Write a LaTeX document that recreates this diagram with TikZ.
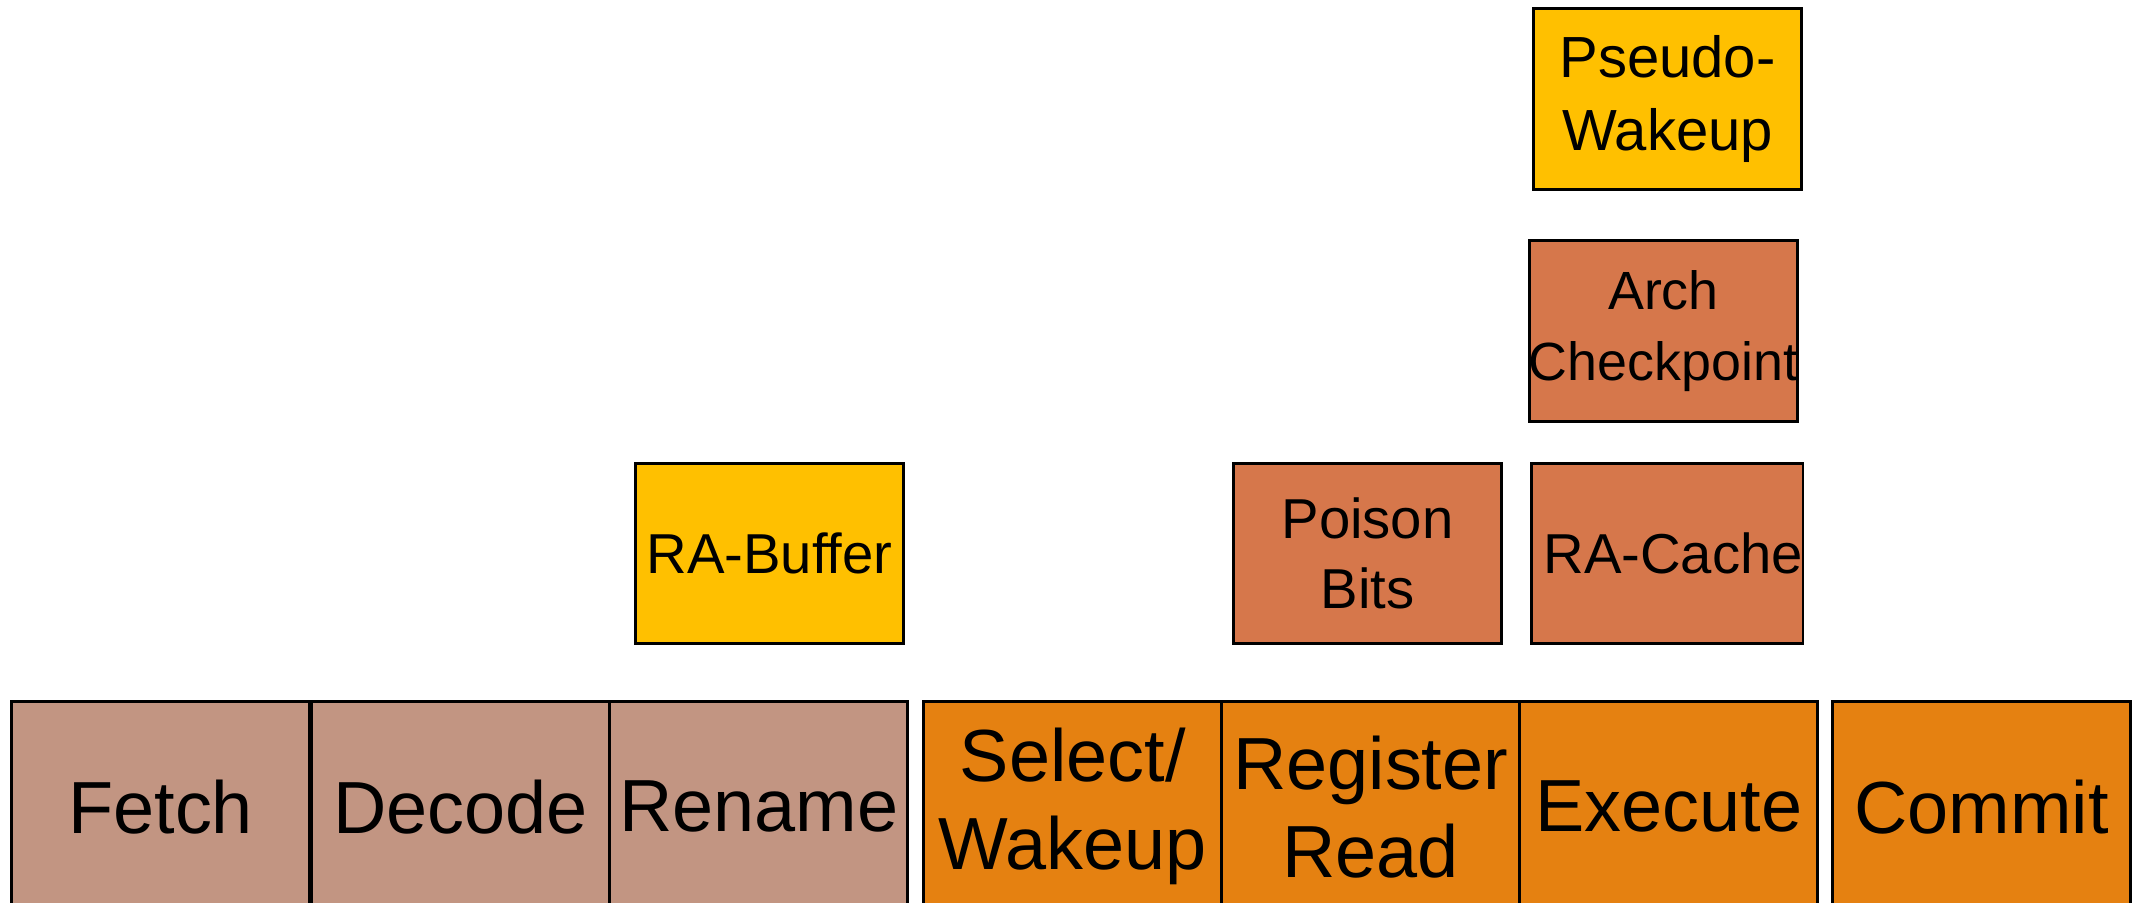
\documentclass[tikz,border=0pt]{standalone}
\usepackage{fontspec}
\setmainfont{Liberation Sans}
\definecolor{stagebrown}{RGB}{194,149,130}
\definecolor{stageorange}{RGB}{229,129,17}
\definecolor{burnt}{RGB}{214,119,75}
\definecolor{gold}{RGB}{255,192,0}
\tikzset{
  bigbox/.style={draw=black, line width=0.9pt, rectangle, inner sep=0pt, anchor=north west,
    minimum width=2.98cm, minimum height=2.10cm, align=center,
    font=\fontsize{21}{25}\selectfont},
  smallbox/.style={draw=black, line width=0.8pt, rectangle, inner sep=0pt, anchor=north west,
    minimum width=2.68cm, minimum height=1.80cm, align=center,
    font=\fontsize{16}{20}\selectfont},
}
\begin{document}
\begin{tikzpicture}[x=0.01cm,y=-0.01cm]
\useasboundingbox (0,0) rectangle (2133,902);
% bottom pipeline
\node[bigbox, fill=stagebrown] (fetch) at (10,700) {Fetch};
\node[bigbox, fill=stagebrown] (decode) at (310,700) {Decode};
\node[bigbox, fill=stagebrown] (rename) at (608,700) {Rename};
\node[bigbox, fill=stageorange] (select) at (922,700) {Select/\\Wakeup};
\node[bigbox, fill=stageorange] (regread) at (1220,700) {Register\\Read};
\node[bigbox, fill=stageorange] (execute) at (1518,700) {Execute};
\node[bigbox, fill=stageorange] (commit) at (1831,700) {Commit};
% upper boxes
\node[smallbox, fill=gold] (rabuf) at (634,462) {RA-Buffer};
\node[smallbox, fill=burnt] (poison) at (1232,462) {Poison\\Bits};
\node[smallbox, fill=burnt] (racache) at (1530,462) {\hspace*{0.12cm}RA-Cache};
\node[smallbox, fill=burnt, minimum height=1.81cm, font=\fontsize{15.3}{20}\selectfont] (arch) at (1528,239) {Arch\\\makebox[0pt]{Checkpoint}};
\node[smallbox, fill=gold, minimum height=1.81cm, font=\fontsize{16.5}{21}\selectfont] (pseudo) at (1532,7) {Pseudo-\\Wakeup};
\end{tikzpicture}
\end{document}
